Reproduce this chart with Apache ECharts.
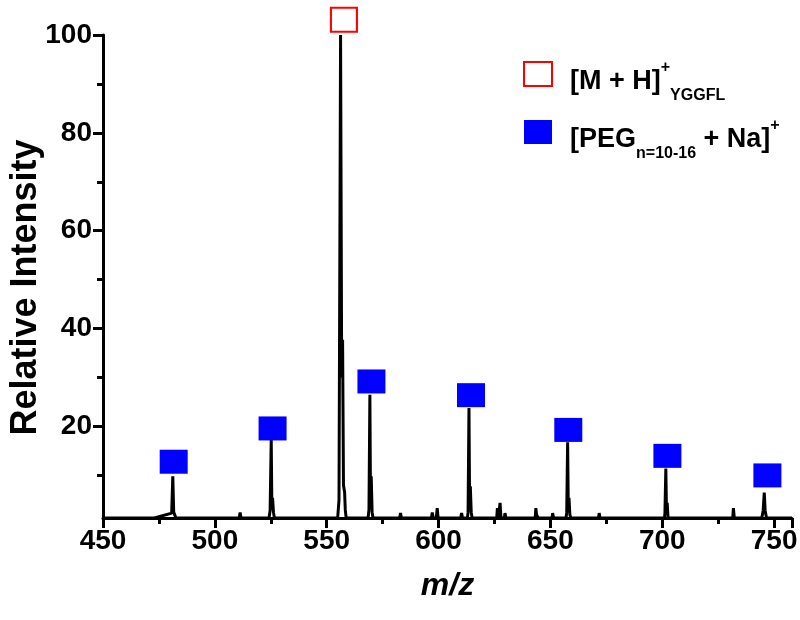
<!DOCTYPE html>
<html>
<head>
<meta charset="utf-8">
<script src="https://cdn.jsdelivr.net/npm/echarts@6/dist/echarts.min.js"></script>
<style>html,body{margin:0;padding:0;background:#fff;}#chart{width:800px;height:620px;}</style>
</head>
<body>
<div id="chart"></div>
<script>
// Spectrum trace (m/z, relative intensity)
const spectrumMz = [450, 473, 480.7, 481.2, 481.6, 482.2, 482.6, 510.9, 511.3, 511.7,
  524.2, 524.7, 525.2, 525.5, 525.8, 526.2, 526.6,
  554.9, 555.5, 556.2, 556.7, 557.1, 557.5, 558.0, 558.3, 558.7,
  568.5, 568.9, 569.3, 569.6, 569.9, 570.3, 570.7,
  582.6, 583.0, 583.4, 596.8, 597.2, 597.6, 599.0, 599.4, 599.8, 609.9, 610.3, 610.7,
  612.9, 613.2, 613.6, 613.9, 614.2, 614.6, 615.0,
  626.0, 626.3, 626.7, 627.2, 627.5, 627.9, 629.4, 629.7, 630.1,
  643.2, 643.5, 643.8, 644.2, 644.6, 650.7, 651.0, 651.4,
  657.0, 657.3, 657.7, 658.0, 658.3, 658.7, 659.1,
  671.5, 671.8, 672.2,
  701.0, 701.2, 701.6, 701.9, 702.2, 702.6,
  731.5, 731.8, 732.2,
  744.5, 745.1, 745.6, 746.0, 746.6, 758];
const spectrumIntensity = [1.3, 1.3, 2.3, 9.8, 2.5, 2.6, 1.3, 1.3, 2.4, 1.3,
  1.3, 2.8, 17.3, 3.0, 5.4, 2.5, 1.3,
  1.3, 5.0, 100, 30, 37.7, 8.0, 6.6, 3.0, 1.3,
  1.3, 3.0, 26.5, 4.0, 9.8, 2.5, 1.3,
  1.3, 2.3, 1.3, 1.3, 2.4, 1.3, 1.3, 3.3, 1.3, 1.3, 2.3, 1.3,
  1.3, 2.5, 23.8, 3.0, 7.8, 2.5, 1.3,
  1.3, 3.3, 1.3, 1.3, 4.4, 1.3, 1.3, 2.3, 1.3,
  1.3, 3.3, 2.0, 2.4, 1.3, 1.3, 2.3, 1.3,
  1.3, 2.5, 16.8, 3.0, 5.4, 2.0, 1.3,
  1.3, 2.3, 1.3,
  1.3, 2.3, 11.4, 2.5, 4.4, 1.3,
  1.3, 3.3, 1.3,
  1.3, 2.8, 6.5, 2.8, 1.3, 1.3];

// Markers
const pegMz = [481.6, 525.8, 570.0, 614.5, 658.0, 702.3, 747.0];
const pegMarkerY = [12.8, 19.6, 29.2, 26.4, 19.3, 14.0, 10.0];
const yggflMz = [557.7];
const yggflMarkerY = [103.1];

// Axis ticks
const yLabelValues = [20, 40, 60, 80, 100];
const yMinorTickValues = [10, 30, 50, 70, 90];

const FONT = '"Liberation Sans", Arial, sans-serif';
const chart = echarts.init(document.getElementById('chart'), null, {renderer: 'canvas'});

const axisLine = {show: true, lineStyle: {color: '#000', width: 3}};

chart.setOption({
  animation: false,
  backgroundColor: '#fff',
  grid: {left: 103, right: 8, top: 35, bottom: 102, containLabel: false, outerBoundsMode: 'none'},
  legend: {
    orient: 'vertical',
    left: 518,
    top: 55,
    itemWidth: 28,
    itemHeight: 24,
    itemGap: 14,
    selectedMode: false,
    data: ['YGGFL', 'PEG'],
    formatter: function (name) {
      return name === 'YGGFL'
        ? '{b|[M + H]}{sup|+}{sub|YGGFL}'
        : '{b|[PEG}{sub|n=10-16}{b| + Na]}{sup|+}';
    },
    textStyle: {
      color: '#000',
      padding: [16, 0, 0, 13],
      rich: {
        b: {fontSize: 27, fontWeight: 'bold', fontFamily: FONT, color: '#000', lineHeight: 44},
        sup: {fontSize: 16, fontWeight: 'bold', fontFamily: FONT, color: '#000', lineHeight: 18, verticalAlign: 'top'},
        sub: {fontSize: 16, fontWeight: 'bold', fontFamily: FONT, color: '#000', lineHeight: 18, verticalAlign: 'bottom'}
      }
    }
  },
  xAxis: {
    type: 'value',
    min: 450,
    max: 758,
    interval: 50,
    name: 'm/z',
    nameLocation: 'middle',
    nameGap: 52,
    nameMoveOverlap: false,
    nameTextStyle: {fontSize: 32, fontWeight: 'bold', fontStyle: 'italic', fontFamily: FONT, color: '#000'},
    axisLine: axisLine,
    axisTick: {show: true, length: 10, lineStyle: {color: '#000', width: 3}},
    minorTick: {show: true, splitNumber: 2, length: 6, lineStyle: {color: '#000', width: 3}},
    axisLabel: {fontSize: 28, fontWeight: 'bold', fontFamily: FONT, color: '#000', margin: 9},
    splitLine: {show: false},
    minorSplitLine: {show: false}
  },
  yAxis: [{
    type: 'value',
    min: 1.3,
    max: 100,
    name: 'Relative Intensity',
    nameLocation: 'middle',
    nameGap: 59,
    nameMoveOverlap: false,
    nameTextStyle: {fontSize: 36, fontWeight: 'bold', fontFamily: FONT, color: '#000', padding: [0, 22, 0, 0]},
    axisLine: axisLine,
    axisTick: {show: true, length: 10, customValues: yLabelValues, lineStyle: {color: '#000', width: 3}},
    axisLabel: {customValues: yLabelValues, fontSize: 28, fontWeight: 'bold', fontFamily: FONT, color: '#000', margin: 11},
    splitLine: {show: false}
  }, {
    type: 'value',
    min: 1.3,
    max: 100,
    position: 'left',
    axisLine: {show: false},
    axisTick: {show: true, length: 6, customValues: yMinorTickValues, lineStyle: {color: '#000', width: 3}},
    axisLabel: {show: false},
    splitLine: {show: false}
  }],
  series: [{
    name: 'spectrum',
    type: 'line',
    data: spectrumMz.map((m, i) => [m, spectrumIntensity[i]]),
    symbol: 'none',
    lineStyle: {color: '#000', width: 3},
    z: 2
  }, {
    name: 'PEG',
    type: 'scatter',
    data: pegMz.map((m, i) => [m, pegMarkerY[i]]),
    symbol: 'rect',
    symbolSize: [28, 24],
    itemStyle: {color: '#0000ff', opacity: 1},
    clip: false,
    z: 5
  }, {
    name: 'YGGFL',
    type: 'scatter',
    data: yggflMz.map((m, i) => [m, yggflMarkerY[i]]),
    symbol: 'rect',
    symbolSize: [26, 24],
    itemStyle: {color: '#ffffff', borderColor: '#ff0000', borderWidth: 2, opacity: 1},
    clip: false,
    z: 5
  }]
});
</script>
</body>
</html>
